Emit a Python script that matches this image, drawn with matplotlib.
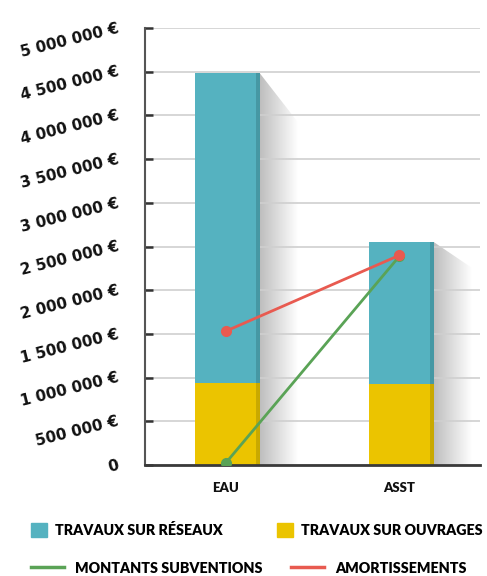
import numpy as np
import matplotlib.pyplot as plt
from matplotlib.colors import LinearSegmentedColormap
from matplotlib.patches import Polygon, Patch
from matplotlib.lines import Line2D

# data
categories = ['EAU', 'ASST']
travaux_ouvrages = [940000, 930000]
travaux_reseaux = [3540000, 1620000]
subventions = [20000, 2390000]
amortissements = [1530000, 2400000]
y_ticks = [0, 500000, 1000000, 1500000, 2000000, 2500000,
           3000000, 3500000, 4000000, 4500000, 5000000]
y_tick_labels = ['0', '500 000 €', '1 000 000 €', '1 500 000 €', '2 000 000 €',
                 '2 500 000 €', '3 000 000 €', '3 500 000 €', '4 000 000 €',
                 '4 500 000 €', '5 000 000 €']

TEAL = '#55B2C0'
TEAL_DARK = '#4698A4'
YELLOW = '#EBC400'
YELLOW_DARK = '#C9A900'
GREEN = '#5AA356'
RED = '#E85A50'

W = 487
H = 576
fig = plt.figure(figsize=(4.87, 5.76), dpi=100)
ax = fig.add_axes([145 / W, 111 / H, 335 / W, 437 / H])

x = np.arange(len(categories))
bw = 0.35
ew = 0.023
totals = np.array(travaux_ouvrages) + np.array(travaux_reseaux)

# shadows behind the bars
shade = LinearSegmentedColormap.from_list('shade', ['#BEBEBE', '#FFFFFF'])
shadow_w = 0.215
shadow_drop = [550000, 290000]
for i in range(len(categories)):
    x0 = x[i] + bw / 2 + ew
    poly = Polygon([(x0, totals[i]), (x0 + shadow_w, totals[i] - shadow_drop[i]),
                    (x0 + shadow_w, 0), (x0, 0)], closed=True,
                   facecolor='none', edgecolor='none', transform=ax.transData)
    ax.add_patch(poly)
    im = ax.imshow(np.linspace(0, 1, 256).reshape(1, -1), cmap=shade, aspect='auto',
                   extent=[x0, x0 + shadow_w, 0, totals[i]], zorder=0.2)
    im.set_clip_path(poly)

# stacked bars with a darker right edge
ax.bar(x, travaux_ouvrages, bw, color=YELLOW, zorder=1)
ax.bar(x + bw / 2, travaux_ouvrages, ew, align='edge', color=YELLOW_DARK, zorder=1)
ax.bar(x, travaux_reseaux, bw, bottom=travaux_ouvrages, color=TEAL, zorder=1)
ax.bar(x + bw / 2, travaux_reseaux, ew, bottom=travaux_ouvrages, align='edge',
       color=TEAL_DARK, zorder=1)

ax.plot(x, subventions, color=GREEN, lw=2, marker='o', ms=7, zorder=3)
ax.plot(x, amortissements, color=RED, lw=2, marker='o', ms=7, zorder=4)

ax.set_xlim(-0.463, 1.463)
ax.set_ylim(0, 5000000)
ax.set_axisbelow(True)
ax.yaxis.grid(True, color='#CFCFCF', lw=1.2)

ax.set_yticks(y_ticks)
ax.set_yticklabels(y_tick_labels, rotation=14, rotation_mode='anchor',
                   ha='right', va='center', fontfamily='DejaVu Sans',
                   fontweight='bold', fontsize=11, color='#111111')
ax.tick_params(axis='y', direction='in', length=6, width=1.8, color='#333333', pad=19)
ax.set_xticks(x)
ax.set_xticklabels(categories, fontfamily='Lato', fontweight='heavy', fontsize=9.5,
                   color='#111111')
ax.tick_params(axis='x', length=0, pad=12)

for s in ['top', 'right']:
    ax.spines[s].set_visible(False)
ax.spines['left'].set_color('#555555')
ax.spines['left'].set_linewidth(1.5)
ax.spines['bottom'].set_color('#3A3A3A')
ax.spines['bottom'].set_linewidth(2)


def add_key(handle, label, px, py, hlen, pad):
    fig.legend([handle], [label], loc='center left',
               bbox_to_anchor=(px / W, 1 - py / H), frameon=False,
               borderpad=0, borderaxespad=0, handlelength=hlen, handleheight=1.15,
               handletextpad=pad,
               prop={'family': 'Lato', 'weight': 'heavy', 'size': 10.3})


add_key(Patch(color=TEAL), 'TRAVAUX SUR RÉSEAUX', 31, 530, 1.15, 0.55)
add_key(Patch(color=YELLOW), 'TRAVAUX SUR OUVRAGES', 277, 530, 1.15, 0.55)
add_key(Line2D([], [], color=GREEN, lw=2.5), 'MONTANTS SUBVENTIONS', 31, 568, 2.3, 0.8)
add_key(Line2D([], [], color=RED, lw=2.5), 'AMORTISSEMENTS', 291, 568, 2.3, 0.8)

fig.savefig('out.png', dpi=100)
